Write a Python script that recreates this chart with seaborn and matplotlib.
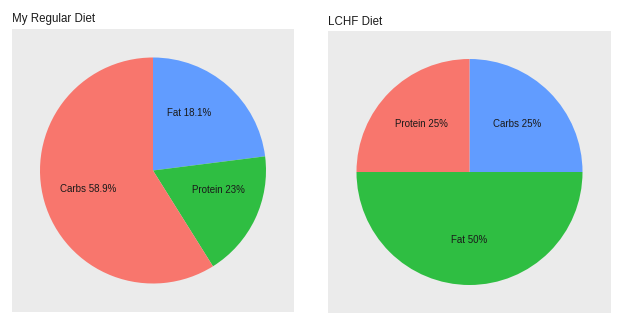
import numpy as np
import matplotlib
matplotlib.use("Agg")
import matplotlib.pyplot as plt
import seaborn as sns

sns.set_theme(style="dark")
plt.rcParams['font.family'] = ['Liberation Sans', 'DejaVu Sans']

titles = ["My Regular Diet", "LCHF Diet"]

# wedges (drawn clockwise from 12 o'clock)
wedge_categories = ["Protein", "Fat", "Carbs"]
wedge_colors = ["#619CFF", "#2FBE42", "#F8766D"]
regular_wedge_values = [23, 18.1, 58.9]
lchf_wedge_values = [25, 50, 25]

# labels (stacked in their own order, as in the original chart)
regular_labels = ["Fat", "Protein", "Carbs"]
regular_values = [18.1, 23, 58.9]
regular_text = ["18.1", "23", "58.9"]
lchf_labels = ["Carbs", "Fat", "Protein"]
lchf_values = [25, 50, 25]
lchf_text = ["25", "50", "25"]

W, H = 631, 333
fig = plt.figure(figsize=(W / 100, H / 100), dpi=100)
fig.patch.set_facecolor("white")

boxes = [(12, 29, 282, 283), (328, 31, 283, 282)]
title_pads = [5, 4]
R = 113.0
datasets = [(regular_wedge_values, regular_labels, regular_values, regular_text),
            (lchf_wedge_values, lchf_labels, lchf_values, lchf_text)]

for (x0, y0, w, h), title, pad, (wv, labs, vals, txt) in zip(boxes, titles, title_pads, datasets):
    ax = fig.add_axes([x0 / W, (H - y0 - h) / H, w / W, h / H])
    ax.pie(wv, colors=wedge_colors, startangle=90, counterclock=False,
           radius=1.0, wedgeprops=dict(linewidth=0))
    ax.set_frame_on(True)
    ax.patch.set_visible(True)
    ax.set_facecolor("#EBEBEB")
    # label positions from the stacked label values
    cum = np.cumsum(vals)
    mids = (cum - np.array(vals) / 2) / cum[-1]
    for l, t, m in zip(labs, txt, mids):
        ang = np.deg2rad(90 - 360 * m)
        ax.text(0.6 * np.cos(ang), 0.6 * np.sin(ang), f"{l} {t}%",
                ha="center", va="center", fontsize=7, color="#1a1a1a")
    ax.set_aspect("auto")
    ax.set_xlim(-w / 2 / R, w / 2 / R)
    ax.set_ylim(-h / 2 / R, h / 2 / R)
    ax.set_xticks([])
    ax.set_yticks([])
    for s in ax.spines.values():
        s.set_visible(False)
    ax.set_title(title, loc="left", fontsize=8.3, pad=pad, color="#1a1a1a")

fig.savefig("out.png", dpi=100)
